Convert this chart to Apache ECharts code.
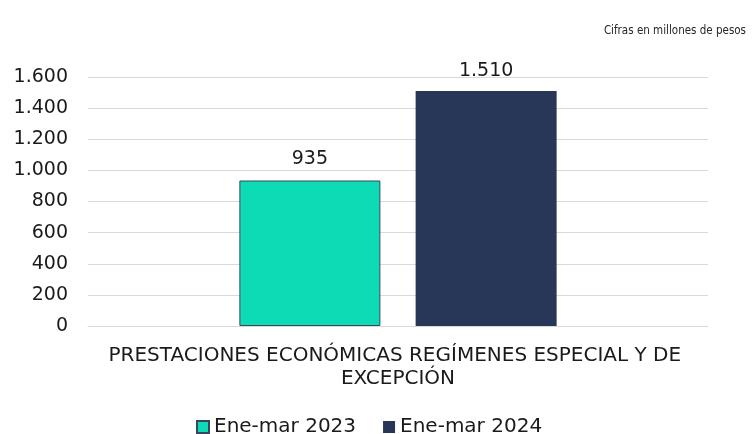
<!DOCTYPE html>
<html>
<head>
<meta charset="utf-8">
<script src="https://cdn.jsdelivr.net/npm/echarts@6/dist/echarts.min.js"></script>
<style>
  html, body { margin: 0; padding: 0; background: #fff; }
  #chart { width: 753px; height: 434px; }
</style>
</head>
<body>
<div id="chart"></div>
<script>
// datos
const categories = ['PRESTACIONES ECONÓMICAS REGÍMENES ESPECIAL Y DE EXCEPCIÓN']
const seriesNames = ['Ene-mar 2023', 'Ene-mar 2024']
const values2023 = [935]
const values2024 = [1510]
const colors = ['#0ddbb6', '#283657']

const fmt = (v) => Number(v).toLocaleString('de-DE')
const font = 'DejaVu Sans'

const chart = echarts.init(document.getElementById('chart'))
chart.setOption({
  backgroundColor: '#fff',
  animation: false,
  textStyle: { fontFamily: font, color: '#1a1a1a' },
  title: {
    text: 'Cifras en millones de pesos',
    right: 2, top: 20,
    textStyle: { fontFamily: '"DejaVu Sans Condensed", "DejaVu Sans"', fontSize: 11.5, fontWeight: 'normal', color: '#262626' }
  },
  grid: { left: 88, right: 45, top: 77, bottom: 108, containLabel: false },
  legend: {
    data: seriesNames,
    left: 191, top: 412,
    itemWidth: 12, itemHeight: 12, itemGap: 27,
    icon: 'rect',
    textStyle: { fontFamily: font, fontSize: 20, color: '#1a1a1a' }
  },
  xAxis: {
    type: 'category',
    data: categories,
    axisLine: { show: true, lineStyle: { color: '#d9d9d9', width: 1 } },
    axisTick: { show: false },
    axisLabel: {
      fontFamily: font, fontSize: 20, color: '#1a1a1a',
      margin: 18, lineHeight: 23,
      width: 620, overflow: 'break', interval: 0
    }
  },
  yAxis: {
    type: 'value',
    min: 0, max: 1600, interval: 200,
    axisLine: { show: false },
    axisTick: { show: false },
    splitLine: { lineStyle: { color: '#d9d9d9', width: 1 } },
    axisLabel: { fontFamily: font, fontSize: 19, color: '#1a1a1a', margin: 20, formatter: fmt }
  },
  series: [
    {
      name: seriesNames[0], type: 'bar',
      data: values2023,
      barWidth: 141, barGap: '25%',
      itemStyle: { color: colors[0], borderColor: '#3a4560', borderWidth: 1 },
      label: { show: true, position: 'top', distance: 12, fontFamily: font, fontSize: 19, color: '#1a1a1a', formatter: (p) => fmt(p.value) }
    },
    {
      name: seriesNames[1], type: 'bar',
      data: values2024,
      barWidth: 141,
      itemStyle: { color: colors[1] },
      label: { show: true, position: 'top', distance: 10, fontFamily: font, fontSize: 19, color: '#1a1a1a', formatter: (p) => fmt(p.value) }
    }
  ]
})
</script>
</body>
</html>
